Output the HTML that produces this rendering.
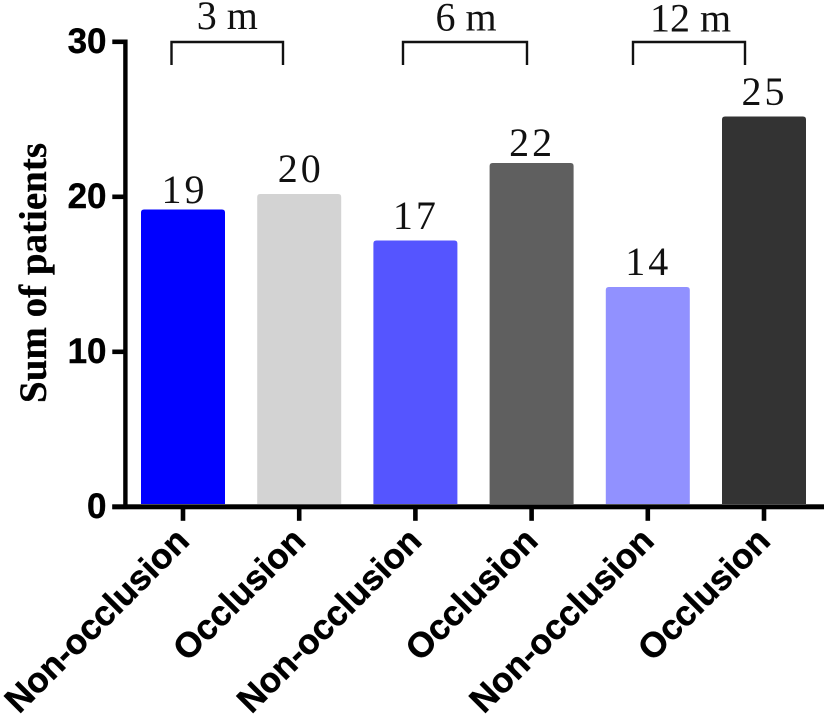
<!DOCTYPE html>
<html lang="en">
<head>
<meta charset="utf-8">
<title>Sum of patients</title>
<style>
html,body{margin:0;padding:0;background:#fff;}
svg{display:block;}
.tick{font:bold 35px "Liberation Sans",sans-serif;fill:#000;stroke:#000;stroke-width:.4px;}
.cat{font:bold 35px "Liberation Sans",sans-serif;fill:#000;stroke:#000;stroke-width:.5px;}
.val{font:40px "Liberation Serif",serif;fill:#111;letter-spacing:3px;}
.grp{font:40px "Liberation Serif",serif;fill:#111;}
.ttl{font:bold 39px "Liberation Serif",serif;fill:#000;stroke:#000;stroke-width:.3px;}
</style>
</head>
<body>
<svg id="chart" width="827" height="720" viewBox="0 0 827 720" xmlns="http://www.w3.org/2000/svg">
<text class="ttl" transform="translate(46,403) rotate(-90)">Sum of patients</text>
</svg>
<script>
const categories = ['Non-occlusion','Occlusion','Non-occlusion','Occlusion','Non-occlusion','Occlusion'];
const patients = [19,20,17,22,14,25];
const yTicks = [0,10,20,30];
const groups = ['3 m','6 m','12 m'];
const barColors = ['#0000ff','#d3d3d3','#5555ff','#5f5f5f','#9191ff','#333333'];
const labelLift = [6.5,12,11.5,7,12,11.5];
const labelShift = [0,0,-1,-1,-1,-1];
const bracketLeftInset = [-11.5,-12.4,-14.8];
const bracketRightInset = [-16.2,-4.6,-19];
const groupLabelShift = [0,1,1.5];
const groupLabelBase = [29,30.5,31.5];

const svg = document.getElementById('chart');
const NS = 'http://www.w3.org/2000/svg';
function make(tag, attrs, text) {
  const el = document.createElementNS(NS, tag);
  for (const k in attrs) el.setAttribute(k, attrs[k]);
  if (text !== undefined) el.textContent = text;
  svg.appendChild(el);
  return el;
}
const unit = 15.5;
const barBase = 504;
const axisBase = 506.8;
const yBar = v => barBase - v * unit;
const yAxis = v => axisBase - v * unit;
const band = 116.2;
const xCenter = i => 183 + i * band;
const barWidth = 84;
const lineW = 5;

categories.forEach((c, i) => {
  const top = yBar(patients[i]);
  const x = xCenter(i) - barWidth / 2;
  const bar = make('path', {
    d: `M${x} ${barBase}V${top + 3}Q${x} ${top} ${x + 3} ${top}H${x + barWidth - 3}Q${x + barWidth} ${top} ${x + barWidth} ${top + 3}V${barBase}Z`,
    fill: barColors[i]
  });
  
  

  const val = make('text', {
    class: 'val',
    x: xCenter(i) + labelShift[i] + 1.5,
    y: top - labelLift[i],
    'text-anchor': 'middle'
  }, String(patients[i]));
  
  

  const tick = make('rect', { x: xCenter(i) - 2.3, y: axisBase, width: 4.6, height: 14, fill: '#000' });
  
  

  const cat = make('text', {
    class: 'cat',
    'text-anchor': 'end',
    transform: `translate(${xCenter(i) + 8},${axisBase + 36}) rotate(-45)`
  }, c);
  
  
});

const yLine = make('rect', { x: 123.2, y: yAxis(30) - 2.3, width: 4.4, height: yAxis(0) - yAxis(30) + 4.6, fill: '#000' });



const xLine = make('rect', { x: 112.3, y: axisBase - lineW / 2, width: 711.7, height: lineW, fill: '#000' });



yTicks.forEach(t => {
  const m = make('rect', { x: 112.3, y: yAxis(t) - 2.3, width: 12, height: 4.6, fill: '#000' });
  
  
  const l = make('text', { class: 'tick', x: 106.5, y: yAxis(t) + 11, 'text-anchor': 'end' }, String(t));
  
  
});

groups.forEach((g, i) => {
  const left = xCenter(i * 2) + bracketLeftInset[i];
  const right = xCenter(i * 2 + 1) + bracketRightInset[i];
  const b = make('path', {
    d: `M${left} 65V42H${right}V65`,
    fill: 'none',
    stroke: '#111',
    'stroke-width': 2.4
  });
  
  
  const t = make('text', { class: 'grp', x: (left + right) / 2 + groupLabelShift[i], y: groupLabelBase[i], 'text-anchor': 'middle' }, g);
  
  
});
</script>
</body>
</html>
